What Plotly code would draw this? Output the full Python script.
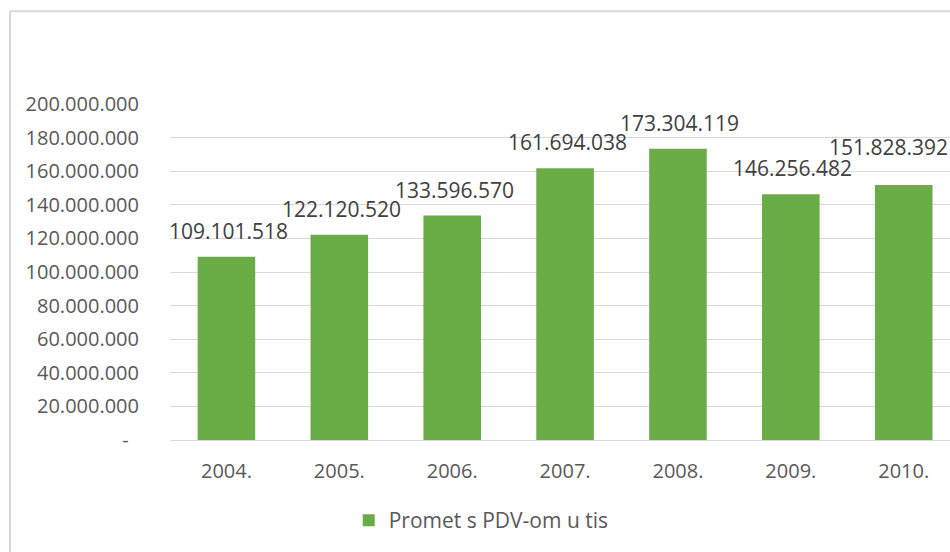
import plotly.graph_objects as go

years = ["2004.", "2005.", "2006.", "2007.", "2008.", "2009.", "2010."]
values = [109101518, 122120520, 133596570, 161694038, 173304119, 146256482, 151828392]
series_name = "Promet s PDV-om u tis"
tick_vals = [0, 20000000, 40000000, 60000000, 80000000, 100000000,
             120000000, 140000000, 160000000, 180000000, 200000000]


def fmt(v):
    return f"{v:,}".replace(",", ".")


tick_text = ["-\u00a0\u00a0"] + [fmt(v) for v in tick_vals[1:]]

FONT = "Open Sans"
fig = go.Figure()
fig.add_trace(go.Bar(
    x=list(range(len(years))), y=values, name=series_name,
    width=0.51,
    marker=dict(color="#6aac46", line=dict(width=0)),
    showlegend=True,
))

# data labels (the last one is nudged left/up to stay in the chart, as in the original)
for i, v in enumerate(values):
    last = i == len(values) - 1
    fig.add_annotation(x=i, y=v, text=fmt(v), showarrow=False,
                       yanchor="bottom", yshift=22 if last else 10,
                       xshift=-15 if last else 2,
                       font=dict(family=FONT, size=21, color="#404040"))

fig.update_layout(
    width=950, height=552,
    margin=dict(l=170, r=0, t=104, b=112),
    paper_bgcolor="white", plot_bgcolor="white",
    font=dict(family=FONT, size=21, color="#595959"),
    bargap=0.49,
    xaxis=dict(
        tickmode="array", tickvals=list(range(len(years))), ticktext=years,
        range=[-0.5, 6.41], showgrid=False, zeroline=False,
        showline=False, ticks="", ticklabelstandoff=17,
        tickfont=dict(family=FONT, size=20, color="#595959"),
    ),
    yaxis=dict(
        range=[0, 200000000], tickmode="array", tickvals=tick_vals,
        ticktext=tick_text, showgrid=True, gridcolor="#d9d9d9", gridwidth=1,
        zeroline=True, zerolinecolor="#d9d9d9", zerolinewidth=1,
        showline=False, ticks="", ticklabelstandoff=30,
        tickfont=dict(family=FONT, size=20, color="#595959"),
    ),
    legend=dict(orientation="h", x=0.399, xanchor="center", y=-0.24,
                yanchor="middle", font=dict(family=FONT, size=21, color="#595959"),
                itemwidth=30),
    shapes=[
        dict(type="line", xref="paper", yref="paper",
             x0=-0.205, x1=-0.205, y0=-0.5, y1=1.276,
             line=dict(color="#d9d9d9", width=2)),
        dict(type="line", xref="paper", yref="paper",
             x0=-0.205, x1=1.2, y0=1.276, y1=1.276,
             line=dict(color="#d9d9d9", width=2)),
    ],
)

fig.write_html("out.html",
               config={"displayModeBar": False},
               post_script="document.body.style.margin='0';"
                           "document.body.style.overflow='hidden';")
